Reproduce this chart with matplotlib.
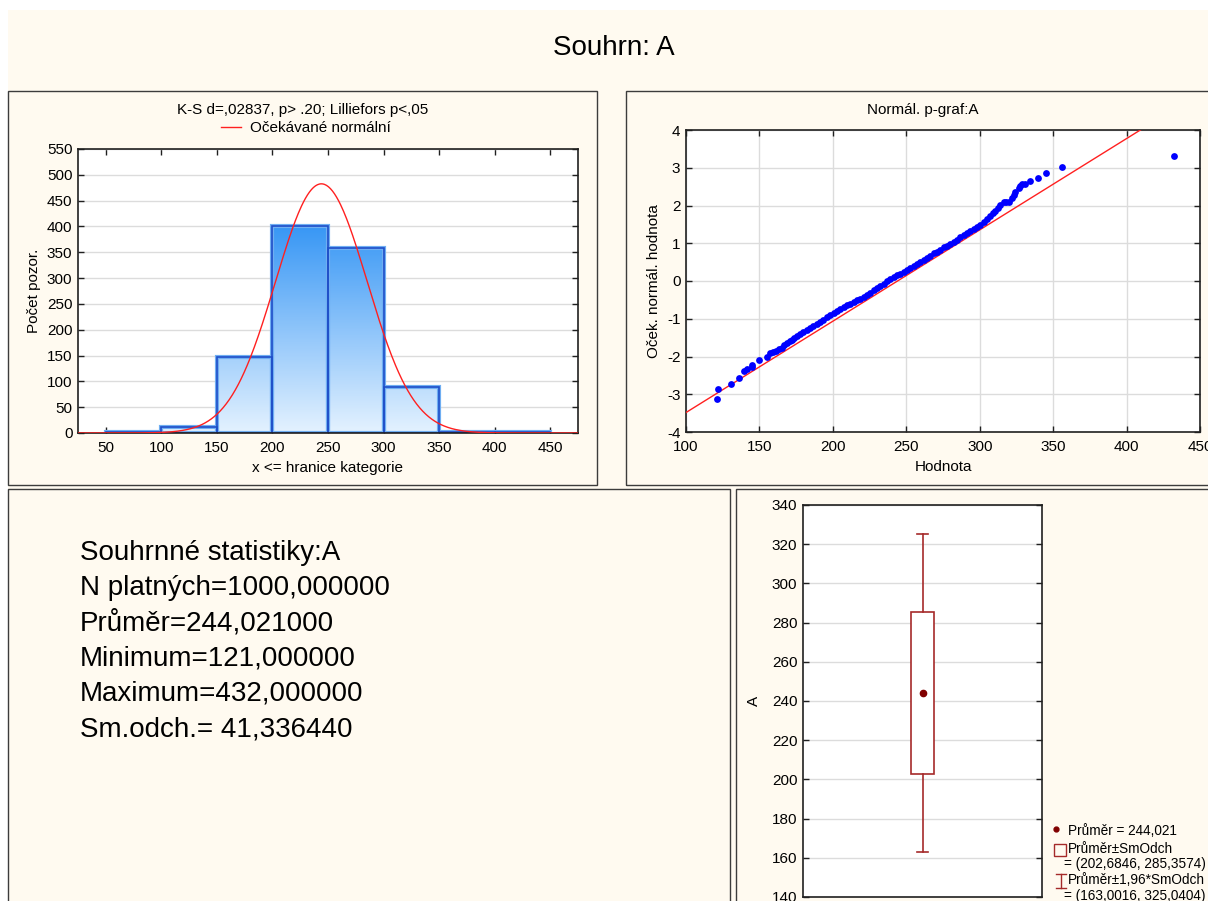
import numpy as np
import matplotlib
matplotlib.use('Agg')
import matplotlib.pyplot as plt
from matplotlib.patches import Rectangle
from matplotlib.lines import Line2D
from matplotlib.colors import LinearSegmentedColormap

# ---------------- data ----------------
bin_edges = [50, 100, 150, 200, 250, 300, 350, 400, 450]
bin_counts = [1, 12, 148, 400, 358, 90, 2, 1]
n_valid = 1000
mean_val = 244.021
sd_val = 41.336440
min_val = 121
max_val = 432

# normal probability plot: (value, expected normal value)
qq_x = [121, 122, 130.5, 136, 139.8, 141.4, 145, 145, 150, 155, 157.3, 159.5, 161.4,
        163, 165.2, 167, 168.6, 170.5, 172, 173.6, 175.5, 177.7, 180, 182.3, 184.5,
        186.8, 189, 191.4, 193.6, 195.9, 198.2, 200.5, 202.7, 205, 207.3, 209.5,
        211.8, 214.1, 216.4, 218.6, 220.9, 223.2, 225.5, 227.7, 230, 232.3, 234.5,
        236.8, 239, 241.4, 243.6, 245.9, 248.2, 250.5, 252.7, 255, 257.3, 259.5,
        261.8, 264.1, 266.4, 268.6, 270.9, 273.2, 275.5, 277.7, 280, 282.3, 284.5,
        286.8, 289, 291.4, 293.6, 295.9, 298.2, 300.5, 302.7, 305, 307.3, 309.1,
        310.7, 312.3, 314.1, 316.4, 318.2, 319.8, 322, 323.2, 324.3, 326.6, 327.7,
        328.9, 330.5, 334, 339.5, 345, 355.7, 432]
qq_z = [-3.13, -2.85, -2.72, -2.57, -2.38, -2.34, -2.29, -2.23, -2.09, -2.00, -1.92,
        -1.88, -1.85, -1.81, -1.77, -1.70, -1.65, -1.60, -1.55, -1.50, -1.46, -1.41,
        -1.35, -1.29, -1.24, -1.20, -1.15, -1.08, -1.02, -0.96, -0.91, -0.85, -0.80,
        -0.74, -0.69, -0.64, -0.60, -0.55, -0.51, -0.47, -0.42, -0.37, -0.32, -0.25,
        -0.19, -0.14, -0.08, -0.01, 0.05, 0.11, 0.15, 0.19, 0.24, 0.29, 0.34, 0.40,
        0.46, 0.51, 0.56, 0.62, 0.67, 0.73, 0.78, 0.83, 0.89, 0.93, 0.98, 1.04, 1.09,
        1.16, 1.22, 1.27, 1.33, 1.37, 1.42, 1.48, 1.55, 1.63, 1.72, 1.79, 1.86, 1.94,
        2.01, 2.10, 2.10, 2.10, 2.21, 2.28, 2.36, 2.47, 2.51, 2.56, 2.58, 2.65, 2.72,
        2.86, 3.01, 3.30]

hist_xticks = [50, 100, 150, 200, 250, 300, 350, 400, 450]
hist_yticks = [0, 50, 100, 150, 200, 250, 300, 350, 400, 450, 500, 550]
qq_xticks = [100, 150, 200, 250, 300, 350, 400, 450]
qq_yticks = [-4, -3, -2, -1, 0, 1, 2, 3, 4]
box_yticks = [140, 160, 180, 200, 220, 240, 260, 280, 300, 320, 340]

main_title = "Souhrn: A"
hist_title = "K-S d=,02837, p> .20; Lilliefors p<,05"
hist_legend = "Očekávané normální"
hist_xlabel = "x <= hranice kategorie"
hist_ylabel = "Počet pozor."
qq_title = "Normál. p-graf:A"
qq_xlabel = "Hodnota"
qq_ylabel = "Oček. normál. hodnota"
box_ylabel = "A"

# ---------------- layout helpers ----------------
W, H = 1208, 901
CREAM = '#FFFAF0'
FRAME = '#3C3C3C'
GRID = '#DCDCDC'
FONT = 'Liberation Sans'
FS = 11

plt.rcParams['font.family'] = [FONT, 'DejaVu Sans']
plt.rcParams['axes.unicode_minus'] = False

fig = plt.figure(figsize=(W / 100, H / 100), dpi=100)
fig.patch.set_facecolor('white')


def rect_fig(x0, y0, x1, y1):
    return [x0 / W, 1 - y1 / H, (x1 - x0) / W, (y1 - y0) / H]


def fx(x):
    return x / W


def fy(y):
    return 1 - y / H


# cream background
fig.add_artist(Rectangle((fx(8), 0), 1, fy(10), transform=fig.transFigure,
                         facecolor=CREAM, edgecolor='none', zorder=-3))
# panel frames
for (x0, y0, x1, y1) in [(8, 91, 597, 485), (626, 91, 1215, 485),
                         (8, 489, 730, 910), (736, 489, 1215, 910)]:
    fig.add_artist(Rectangle((fx(x0), fy(y1)), fx(x1) - fx(x0), fy(y0) - fy(y1),
                             transform=fig.transFigure, facecolor='none',
                             edgecolor=FRAME, lw=1.0, zorder=-2))

fig.text(fx(614), fy(48), main_title, ha='center', va='center', fontsize=20)


def style_axes(ax):
    ax.set_facecolor('white')
    for s in ax.spines.values():
        s.set_color('#202020')
        s.set_linewidth(1.2)
    ax.tick_params(direction='in', top=True, right=True, length=4, width=1,
                   labelsize=FS, colors='#202020', labelcolor='black', pad=4)
    ax.tick_params(axis='x', pad=6)
    ax.set_axisbelow(True)


# ---------------- histogram ----------------
ax1 = fig.add_axes(rect_fig(78, 149, 578, 433))
style_axes(ax1)
ax1.grid(axis='y', color=GRID, lw=1)

cmap = LinearSegmentedColormap.from_list('g', ['#E4F2FF', '#3897F5'])
lefts = bin_edges[:-1]
widths = [bin_edges[i + 1] - bin_edges[i] for i in range(len(bin_counts))]
bars = ax1.bar(lefts, bin_counts, width=widths, align='edge',
               facecolor='none', edgecolor='#6FAEF2', lw=3.0, zorder=2)
for b in bars:
    x0, w, h = b.get_x(), b.get_width(), b.get_height()
    if h <= 0:
        continue
    grad = np.linspace(0, h / 400.0, 200).reshape(-1, 1)
    ax1.imshow(grad, cmap=cmap, vmin=0, vmax=1, origin='lower', aspect='auto',
               extent=[x0, x0 + w, 0, h], zorder=1.5, interpolation='bilinear')
ax1.bar(lefts, bin_counts, width=widths, align='edge',
        facecolor='none', edgecolor='#1F4FC8', lw=1.2, zorder=2.5)

xs = np.linspace(25, 475, 500)
ys = n_valid * widths[0] * np.exp(-0.5 * ((xs - mean_val) / sd_val) ** 2) / (sd_val * np.sqrt(2 * np.pi))
normal_line, = ax1.plot(xs, ys, color='#FF2020', lw=1.0, zorder=3)

ax1.set_xlim(25, 475)
ax1.set_ylim(0, 550)
ax1.set_xticks(hist_xticks)
ax1.set_yticks(hist_yticks)
ax1.set_xlabel(hist_xlabel, fontsize=FS, labelpad=4)
ax1.set_ylabel(hist_ylabel, fontsize=FS, labelpad=4)
fig.text(fx(303), fy(110), hist_title, ha='center', va='center', fontsize=FS)
ax1.legend([normal_line], [hist_legend], loc='center',
           bbox_to_anchor=(fx(306), fy(128)), bbox_transform=fig.transFigure,
           frameon=False, fontsize=FS, handlelength=1.3, handletextpad=0.6,
           borderpad=0, borderaxespad=0)

# ---------------- normal probability plot ----------------
ax2 = fig.add_axes(rect_fig(686, 130, 1200, 432))
style_axes(ax2)
ax2.grid(True, color=GRID, lw=1)
lx = np.array([100, 450])
ax2.plot(lx, (lx - mean_val) / sd_val, color='#FF2020', lw=1.0, zorder=3)
ax2.scatter(qq_x, qq_z, s=24, color='#0000FF', linewidths=0, zorder=4)
ax2.set_xlim(100, 450)
ax2.set_ylim(-4, 4)
ax2.set_xticks(qq_xticks)
ax2.set_yticks(qq_yticks)
ax2.set_xlabel(qq_xlabel, fontsize=FS, labelpad=4)
ax2.set_ylabel(qq_ylabel, fontsize=FS, labelpad=4)
fig.text(fx(923), fy(110), qq_title, ha='center', va='center', fontsize=FS)

# ---------------- summary text ----------------
def cz(v, d=6):
    return f"{v:.{d}f}".replace('.', ',')

stats_lines = [
    "Souhrnné statistiky:A",
    f"N platných={cz(n_valid)}",
    f"Průměr={cz(mean_val)}",
    f"Minimum={cz(min_val)}",
    f"Maximum={cz(max_val)}",
    f"Sm.odch.= {cz(sd_val)}",
]
for i, s in enumerate(stats_lines):
    fig.text(fx(80), fy(553 + i * 35.2), s, ha='left', va='center', fontsize=20)

# ---------------- box plot ----------------
ax3 = fig.add_axes(rect_fig(803, 505, 1042, 897))
style_axes(ax3)
ax3.grid(axis='y', color=GRID, lw=1)
BOXC = '#A52A2A'
stats = [{
    'med': mean_val, 'mean': mean_val,
    'q1': mean_val - sd_val, 'q3': mean_val + sd_val,
    'whislo': mean_val - 1.96 * sd_val, 'whishi': mean_val + 1.96 * sd_val,
    'fliers': [],
}]
ax3.bxp(stats, positions=[0.5], widths=0.1, capwidths=0.05, showmeans=True,
        showfliers=False, patch_artist=True,
        boxprops=dict(facecolor='white', edgecolor=BOXC, lw=1.2),
        whiskerprops=dict(color=BOXC, lw=1.2),
        capprops=dict(color=BOXC, lw=1.2),
        medianprops=dict(lw=0),
        meanprops=dict(marker='o', markersize=4.5, markerfacecolor='#800000',
                       markeredgecolor='#800000'))
ax3.set_xlim(0, 1)
ax3.set_ylim(140, 340)
ax3.set_xticks([])
ax3.set_yticks(box_yticks)
ax3.tick_params(axis='x', top=False, bottom=False)
ax3.set_ylabel(box_ylabel, fontsize=FS, labelpad=8)

# legend (manual)
LF = 9.8
fig.add_artist(Line2D([fx(1056)], [fy(829)], marker='o', ms=3.5, color='#800000',
                      transform=fig.transFigure))
fig.text(fx(1068), fy(831), f"Průměr = {cz(mean_val, 3)}", fontsize=LF, va='center')
fig.add_artist(Rectangle((fx(1054), fy(856)), fx(12), fy(0) - fy(12),
                         transform=fig.transFigure, facecolor='none',
                         edgecolor=BOXC, lw=1.0))
fig.text(fx(1068), fy(849), "Průměr±SmOdch", fontsize=LF, va='center')
fig.text(fx(1064), fy(864),
         f"= ({cz(mean_val - sd_val, 4)}, {cz(mean_val + sd_val, 4)})",
         fontsize=LF, va='center')
# I-bar symbol
for (xa, ya, xb, yb) in [(1061, 874, 1061, 888), (1056, 874, 1066, 874), (1056, 888, 1066, 888)]:
    fig.add_artist(Line2D([fx(xa), fx(xb)], [fy(ya), fy(yb)], color=BOXC, lw=1.0,
                          transform=fig.transFigure))
fig.text(fx(1068), fy(880), "Průměr±1,96*SmOdch", fontsize=LF, va='center')
fig.text(fx(1064), fy(896),
         f"= ({cz(mean_val - 1.96 * sd_val, 4)}, {cz(mean_val + 1.96 * sd_val, 4)})",
         fontsize=LF, va='center')

fig.savefig('out.png', dpi=100, facecolor=fig.get_facecolor())
